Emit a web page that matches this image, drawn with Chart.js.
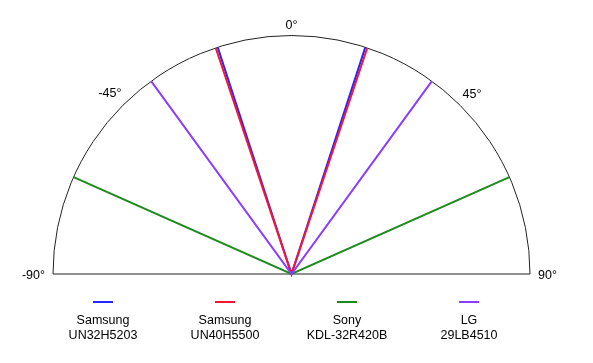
<!DOCTYPE html>
<html lang="en">
<head>
  <meta charset="UTF-8">
  <title>Viewing angles</title>
  <script src="https://cdn.jsdelivr.net/npm/chart.js"></script>
  <style>
    html, body { margin: 0; padding: 0; background: #fff; }
    #wrap { width: 593px; height: 363px; }
  </style>
</head>
<body>
<div id="wrap">
  <canvas id="angles" width="593" height="363"></canvas>
</div>

<script>
  // models and their half viewing angle (degrees from 0°)
  const brands = ['Samsung', 'Samsung', 'Sony', 'LG'];
  const models = ['UN32H5203', 'UN40H5500', 'KDL-32R420B', '29LB4510'];
  const halfAngles = [18, 18.5, 66, 36];
  const colors = ['#2626ff', '#f51535', '#1d8a1d', '#8a3cff'];
  const tickAngles = [-90, -45, 0, 45, 90];

  const FONT = '12.5px "Liberation Sans", Arial, sans-serif';
  const rad = (d) => d * Math.PI / 180;

  // V-shaped line: left edge -> center -> right edge
  const datasets = halfAngles.map((a, i) => ({
    label: brands[i] + ' ' + models[i],
    data: [
      { x: -Math.sin(rad(a)), y: Math.cos(rad(a)) },
      { x: 0, y: 0 },
      { x: Math.sin(rad(a)), y: Math.cos(rad(a)) }
    ],
    borderColor: colors[i],
    backgroundColor: colors[i],
    borderWidth: 2,
    showLine: true,
    pointRadius: 0,
    clip: false,
    order: [3, 2, 1, 0][i]
  }));

  // semicircle frame and degree labels
  const framePlugin = {
    id: 'frame',
    beforeDatasetsDraw(chart) {
      const { ctx, scales: { x, y } } = chart;
      const cx = x.getPixelForValue(0), cy = y.getPixelForValue(0);
      const r = x.getPixelForValue(1) - cx;
      ctx.save();
      ctx.strokeStyle = '#222';
      ctx.lineWidth = 1;
      ctx.beginPath();
      ctx.arc(cx, cy, r, Math.PI, 2 * Math.PI);
      ctx.closePath();
      ctx.stroke();

      ctx.font = FONT;
      ctx.fillStyle = '#000';
      ctx.textAlign = 'center';
      ctx.textBaseline = 'middle';
      tickAngles.forEach(a => {
        const text = a + '°';
        const w = ctx.measureText(text).width;
        const s = Math.sin(rad(a)), c = Math.cos(rad(a));
        const d = r + 8 + Math.abs(s) * w / 2 + Math.abs(c) * 3;
        ctx.fillText(text, cx + s * d, cy - c * d + 1.5);
      });
      ctx.restore();
    }
  };

  // legend: short line sample above two lines of text
  const legendPlugin = {
    id: 'twoLineLegend',
    afterDraw(chart) {
      const { ctx } = chart;
      ctx.save();
      ctx.font = FONT;
      ctx.textAlign = 'center';
      ctx.textBaseline = 'middle';
      brands.forEach((b, i) => {
        const xc = 103 + i * 122;
        ctx.strokeStyle = colors[i];
        ctx.lineWidth = 2;
        ctx.beginPath();
        ctx.moveTo(xc - 10, 302);
        ctx.lineTo(xc + 10, 302);
        ctx.stroke();
        ctx.fillStyle = '#000';
        ctx.fillText(b, xc, 321);
        ctx.fillText(models[i], xc, 336);
      });
      ctx.restore();
    }
  };

  new Chart(document.getElementById('angles'), {
    type: 'scatter',
    data: { datasets },
    options: {
      responsive: false,
      animation: false,
      layout: { padding: { left: 53, right: 63, top: 36, bottom: 89 } },
      scales: {
        x: { type: 'linear', min: -1, max: 1, display: false },
        y: { type: 'linear', min: 0, max: 1, display: false }
      },
      plugins: {
        legend: { display: false },
        tooltip: { enabled: false }
      }
    },
    plugins: [framePlugin, legendPlugin]
  });
</script>
</body>
</html>
